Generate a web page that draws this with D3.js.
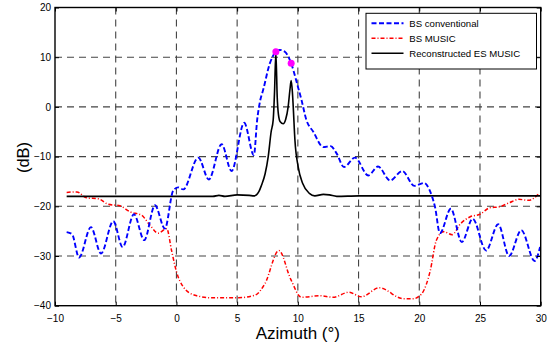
<!DOCTYPE html>
<html><head><meta charset="utf-8">
<script src="https://cdn.jsdelivr.net/npm/d3@7"></script>
<style>body{margin:0;background:#fff}svg{display:block}text{font-family:"Liberation Sans",Arial,sans-serif}</style>
</head><body><svg id="c" width="553" height="347"></svg>
<script>
const xTicks = [-10,-5,0,5,10,15,20,25,30];
const yTicks = [-40,-30,-20,-10,0,10,20];
const seriesNames = ["BS conventional","BS MUSIC","Reconstructed ES MUSIC"];

const blueX = [-9.04,-8.6,-8.02,-7.04,-6.21,-5.2,-4.43,-3.5,-2.65,-1.77,-0.95,-0.26,0.15,0.56,1.8,2.67,3.72,4.54,5.58,6.38,6.65,6.9,7.14,7.7,8.2,8.52,8.93,9.45,9.9,10.3,10.7,11.27,12.1,12.7,13.2,13.8,14.7,15.8,16.6,17.6,18.6,19.6,20.4,20.86,21.3,21.7,22.6,23.5,24.4,25.5,26.5,27.4,28.4,29.5,29.95];
const blueY = [-25.2,-25.6,-30.3,-24.2,-29.5,-23.0,-28.2,-21.6,-26.8,-19.8,-24.5,-16.8,-16.2,-16.6,-10.2,-14.6,-7.5,-12.9,-3.2,-9.7,-2.6,1.3,3.4,8.8,11.1,11.45,11.1,8.77,5.0,1.4,-2.6,-5.0,-8.1,-7.9,-9.4,-12.1,-10.2,-13.8,-12.0,-14.8,-12.9,-15.9,-15.3,-16.8,-20.2,-25.4,-20.5,-27.2,-22.5,-28.9,-23.6,-30.0,-24.8,-31.0,-28.2];

const redX = [-9.04,-8.2,-7.4,-6.43,-5.6,-4.65,-3.83,-2.87,-2.18,-1.5,-0.8,-0.4,0.01,0.56,1.52,2.9,5.1,6.46,7.28,8.44,9.4,10.3,11.8,12.9,14.2,15.24,16.7,18.7,19.5,20.2,20.9,21.4,22.0,22.7,23.4,24.2,25.0,25.8,26.6,27.4,28.2,29.0,29.8];
const redY = [-17.2,-17.1,-18.3,-18.5,-19.6,-19.9,-21.1,-21.8,-23.8,-25.4,-24.5,-28.9,-33.2,-36.2,-37.9,-38.4,-38.4,-37.9,-35.6,-28.9,-34.6,-38.3,-38.0,-38.3,-37.3,-38.2,-36.4,-38.6,-38.6,-37.6,-33.0,-26.9,-25.1,-25.7,-23.5,-22.1,-21.6,-20.3,-20.1,-19.3,-18.6,-18.8,-17.6];

const blackX = [-9.04,0,3,3.5,4,5,6.0,6.4,6.8,7.0,7.3,7.56,7.8,7.97,8.08,8.19,8.3,8.4,8.55,8.79,9.0,9.2,9.35,9.45,9.55,9.62,9.76,10.03,10.4,10.95,11.4,12.1,12.6,13.2,15,30];
const blackY = [-18.0,-18.0,-18.0,-17.8,-18.0,-17.7,-17.8,-17.9,-17.0,-15.8,-13.5,-10.0,-5.0,-2.6,3.0,11.0,2.0,-1.5,-3.0,-3.4,-2.5,0.0,3.5,5.3,3.0,0.0,-6.7,-12.1,-15.4,-17.4,-17.9,-17.6,-17.7,-18.0,-17.9,-17.9];

const dotX = [8.19,9.45];
const dotY = [11.1,8.77];

const svg = d3.select("#c");
const L=55,R=540.7,T=7.5,B=305.7;
const x = d3.scaleLinear().domain([-10,30]).range([L,R]);
const y = d3.scaleLinear().domain([-40,20]).range([B,T]);

// grid
const g = svg.append("g");
g.selectAll(".vg").data(xTicks.filter(d=>d>-10&&d<30)).enter().append("line")
 .attr("x1",d=>x(d)).attr("x2",d=>x(d)).attr("y1",T).attr("y2",B)
 .attr("stroke","#444").attr("stroke-width",1.1).attr("stroke-dasharray","7,5");
g.selectAll(".hg").data(yTicks.filter(d=>d>-40&&d<20)).enter().append("line")
 .attr("x1",L).attr("x2",R).attr("y1",d=>y(d)).attr("y2",d=>y(d))
 .attr("stroke","#444").attr("stroke-width",1.1).attr("stroke-dasharray","7,5");

const line = (xs,ys)=>d3.line().x(i=>x(xs[i])).y(i=>y(ys[i])).curve(d3.curveMonotoneX)(d3.range(xs.length));

svg.append("path").attr("d",line(redX,redY)).attr("fill","none").attr("stroke","#ff0000").attr("stroke-width",1.5).attr("stroke-dasharray","4,2,1,2");
svg.append("path").attr("d",line(blackX,blackY)).attr("fill","none").attr("stroke","#000").attr("stroke-width",1.6);
svg.append("path").attr("d",line(blueX,blueY)).attr("fill","none").attr("stroke","#0000ff").attr("stroke-width",1.9).attr("stroke-dasharray","5,2.5");

svg.selectAll(".dot").data(dotX).enter().append("circle")
 .attr("cx",(d,i)=>x(d)).attr("cy",(d,i)=>y(dotY[i])).attr("r",3.5).attr("fill","#ff00ff");

// axes box
svg.append("rect").attr("x",L).attr("y",T).attr("width",R-L).attr("height",B-T).attr("fill","none").attr("stroke","#000").attr("stroke-width",1.4);

const ax = svg.append("g").attr("transform",`translate(0,${B})`).call(d3.axisBottom(x).tickValues(xTicks).tickSize(-4).tickPadding(9).tickFormat(d3.format("d")));
const axT = svg.append("g").attr("transform",`translate(0,${T})`).call(d3.axisTop(x).tickValues(xTicks).tickSize(-4).tickFormat(""));
const ay = svg.append("g").attr("transform",`translate(${L},0)`).call(d3.axisLeft(y).tickValues(yTicks).tickSize(-4).tickPadding(4).tickFormat(d3.format("d")));
const ayR = svg.append("g").attr("transform",`translate(${R},0)`).call(d3.axisRight(y).tickValues(yTicks).tickSize(-4).tickFormat(""));
[ax,axT,ay,ayR].forEach(a=>{a.select(".domain").remove();a.selectAll("line").attr("stroke","#000");a.selectAll("text").attr("font-size",10).attr("fill","#000").attr("font-family","Liberation Sans, Arial, sans-serif");});
ax.selectAll("text").attr("dy","0.71em");

svg.append("text").attr("x",(L+R)/2+0).attr("y",339).attr("text-anchor","middle").attr("font-size",17).text("Azimuth (°)");
svg.append("text").attr("transform","translate(29,157.5) rotate(-90)").attr("text-anchor","middle").attr("font-size",16.5).text("(dB)");

// legend
const lg = svg.append("g");
lg.append("rect").attr("x",366).attr("y",13.3).attr("width",170.5).attr("height",55.7).attr("fill","#fff").attr("stroke","#000").attr("stroke-width",1);
const styles=[{c:"#0000ff",d:"5,2.5",w:1.9},{c:"#ff0000",d:"4,2,1,2",w:1.5},{c:"#000",d:null,w:1.6}];
seriesNames.forEach((n,i)=>{
  const yy = 23.3 + i*15;
  lg.append("line").attr("x1",371.5).attr("x2",403.5).attr("y1",yy).attr("y2",yy).attr("stroke",styles[i].c).attr("stroke-width",styles[i].w).attr("stroke-dasharray",styles[i].d);
  lg.append("text").attr("x",409.3).attr("y",yy).attr("dy","0.35em").attr("font-size",9.6).text(n);
});
</script></body></html>
